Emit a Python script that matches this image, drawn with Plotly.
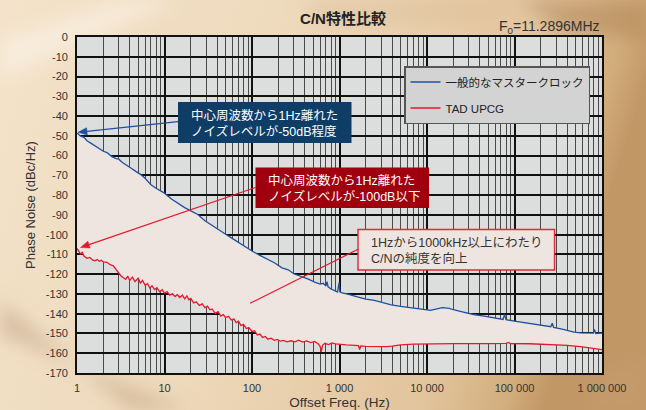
import base64
import math
import plotly.graph_objects as go

# ---------------- data ----------------
blue_name = "一般的なマスタークロック"
red_name = "TAD UPCG"

blue_f = [1, 1.1, 1.2, 1.3, 1.45, 1.6, 1.8, 2.0, 2.2, 2.5, 2.8, 3.0, 3.3, 3.7, 4.2, 4.7,
          5.3, 6.0, 7.0, 8.0, 9.0, 10, 12, 14, 17, 20, 24, 29, 35, 42, 50, 60, 72, 87,
          100, 120, 150, 180, 220, 260, 300, 360, 440, 520, 600, 650, 700, 720, 740, 800,
          850, 900, 950, 990, 1010, 1050, 1100, 1300, 1600, 2000, 2500, 3000, 3900, 5000,
          6600, 8500, 11000, 13000, 15000, 18000, 20000, 26000, 34000, 45000, 58000,
          74000, 77000, 80000, 100000, 130000, 170000, 220000, 260000, 270000, 280000,
          350000, 400000, 480000, 570000, 700000, 800000, 820000, 850000, 1000000]
blue_v = [-48.5, -50.2, -50.8, -52.5, -53.8, -55.0, -56.5, -57.8, -58.5, -60.5, -61.5,
          -61.8, -63.5, -64.8, -66.5, -68.0, -69.5, -71.5, -74.8, -76.5, -77.8, -79.0,
          -82.0, -84.0, -86.3, -88.0, -89.8, -93.0, -95.2, -97.5, -99.8, -102.0, -104.3,
          -106.8, -108.3, -110.2, -112.5, -114.2, -116.8, -117.8, -119.8, -121.0, -122.5,
          -124.0, -125.0, -124.6, -126.0, -123.8, -126.4, -127.5, -128.0, -128.5, -129.0,
          -124.3, -128.9, -129.3, -129.6, -130.3, -131.5, -132.6, -133.2, -134.2, -135.5,
          -136.3, -137.1, -137.8, -138.3, -137.5, -136.9, -137.3, -138.0, -139.2, -140.4,
          -141.2, -142.1, -142.9, -140.4, -143.0, -143.8, -144.6, -145.5, -146.2, -146.6,
          -144.8, -146.9, -147.8, -148.6, -149.3, -149.7, -149.6, -149.8, -148.0, -150.0,
          -149.8]

red_f = [1, 1.05, 1.1, 1.15, 1.2, 1.3, 1.4, 1.5, 1.6, 1.7, 1.8, 1.9, 2.0, 2.2, 2.4, 2.6,
         2.8, 3.0, 3.2, 3.4, 3.6, 3.8, 4.0, 4.3, 4.6, 5.0, 5.3, 5.6, 6.0, 6.4, 6.8, 7.2,
         7.7, 8.2, 8.8, 9.4, 10, 10.7, 11.5, 12.3, 13.2, 14, 15, 16, 17, 18, 19, 20, 21.5,
         23, 25, 27, 29, 31, 33, 35, 38, 41, 44, 47, 50, 54, 58, 62, 66, 70, 75, 80, 86,
         92, 100, 107, 115, 123, 132, 142, 152, 165, 180, 195, 210, 230, 250, 280, 310,
         340, 380, 420, 470, 520, 570, 600, 620, 640, 680, 750, 820, 900, 1000, 1200,
         1500, 1650, 1700, 1750, 2000, 2500, 3000, 3500, 4000, 5000, 7000, 10000, 20000,
         50000, 80000, 85000, 90000, 150000, 250000, 400000, 600000, 800000, 1000000]
red_v = [-107.0, -108.5, -109.8, -109.0, -110.8, -112.0, -111.5, -112.8, -113.2, -112.6,
         -113.5, -113.0, -113.8, -114.0, -115.2, -115.8, -117.8, -119.3, -121.0, -121.8,
         -122.6, -121.0, -123.2, -121.5, -123.8, -122.0, -124.5, -123.2, -125.5, -124.8,
         -127.0, -125.9, -127.8, -126.8, -128.9, -127.9, -129.6, -128.8, -130.6, -129.9,
         -131.3, -130.4, -131.8, -130.6, -132.5, -131.0, -133.0, -132.3, -134.5, -134.0,
         -135.8, -135.0, -136.9, -136.2, -138.0, -137.6, -139.8, -139.0, -141.2, -140.5,
         -142.0, -141.3, -143.2, -142.6, -144.5, -143.8, -146.0, -145.4, -147.5, -147.0,
         -149.0, -148.6, -150.8, -150.3, -152.0, -151.5, -152.9, -152.4, -153.5, -153.0,
         -153.9, -153.5, -154.2, -153.7, -154.2, -153.4, -154.4, -153.8, -154.6, -154.0,
         -155.2, -156.5, -159.2, -156.0, -155.0, -155.6, -154.8, -155.3, -155.6, -155.8,
         -156.0, -156.2, -158.2, -156.3, -156.5, -156.7, -156.8, -156.7, -156.4, -155.8,
         -155.4, -155.2, -155.1, -155.1, -155.0, -154.5, -155.1, -155.2, -155.5, -156.0,
         -156.8, -157.5, -158.2]

x_tickvals = [1, 10, 100, 1000, 10000, 100000, 1000000]
x_ticktext = ["1", "10", "100", "1 000", "10 000", "100 000", "1 000 000"]
y_tickvals = [0, -10, -20, -30, -40, -50, -60, -70, -80, -90, -100, -110, -120, -130,
              -140, -150, -160, -170]
y_ticktext = ["0", "-10", "-20", "-30", "-40", "-50", "-60", "-70", "-80", "-90", "-100",
              "-110", "-120", "-130", "-140", "-150", "-160", "-170"]

# ---------------- layout helpers ----------------
W, H = 646, 410
L, R, T, B = 77, 44, 37, 37
PW, PH = W - L - R, H - T - B


def px(x):
    return (x - L) / PW


def py(y):
    return (H - B - y) / PH


def arrow_shapes(tail, tip, color, head_len=9.0, half_w=3.6, width=1.2):
    """Leader line plus a filled triangular head (pixel positions -> paper coords)."""
    (x0, y0), (x1, y1) = tail, tip
    dx, dy = x1 - x0, y1 - y0
    n = math.hypot(dx, dy)
    ux, uy = dx / n, dy / n
    bx, by = x1 - ux * head_len, y1 - uy * head_len
    lx, ly = bx - uy * half_w, by + ux * half_w
    rx, ry = bx + uy * half_w, by - ux * half_w
    path = f"M{px(x1)},{py(y1)} L{px(lx)},{py(ly)} L{px(rx)},{py(ry)} Z"
    return [
        dict(type="line", xref="paper", yref="paper", x0=px(x0), y0=py(y0), x1=px(bx), y1=py(by),
             line=dict(width=width, color=color), layer="above"),
        dict(type="path", xref="paper", yref="paper", path=path, fillcolor=color,
             line=dict(width=0.5, color=color), layer="above"),
    ]


BLUE = "#1f50a0"
RED = "#e5192d"
FONT = "Liberation Sans, Noto Sans CJK JP, sans-serif"

minor_x = [m * d for d in [1, 10, 100, 1000, 10000, 100000] for m in range(2, 10)]

# background wood-like gradient (SVG)
svg = """<svg xmlns="http://www.w3.org/2000/svg" width="646" height="410" viewBox="0 0 646 410" preserveAspectRatio="none">
<defs>
<linearGradient id="g" x1="0" y1="0" x2="1" y2="0.2">
<stop offset="0" stop-color="#f3e3ca"/>
<stop offset="0.45" stop-color="#eed9bb"/>
<stop offset="0.82" stop-color="#e2c49c"/>
<stop offset="0.94" stop-color="#d2ae7e"/>
<stop offset="1" stop-color="#c29766"/>
</linearGradient>
<filter id="b"><feGaussianBlur stdDeviation="9"/></filter>
</defs>
<rect width="646" height="410" fill="url(#g)"/>
<g filter="url(#b)">
<polygon points="0,40 0,80 180,0 120,0" fill="#ffffff" opacity="0.35"/>
<polygon points="0,300 0,335 190,410 130,410" fill="#a88060" opacity="0.35"/>
<polygon points="520,0 646,0 646,40 560,30" fill="#a87c50" opacity="0.45"/>
<polygon points="300,0 520,0 470,20 320,25" fill="#d8b890" opacity="0.35"/>
<polygon points="600,380 646,360 646,410 590,410" fill="#c8a070" opacity="0.4"/>
</g>
</svg>"""
bg_src = "data:image/svg+xml;base64," + base64.b64encode(svg.encode("utf-8")).decode("ascii")

fig = go.Figure()

# fill between the two curves
fig.add_trace(go.Scatter(x=blue_f, y=blue_v, mode="lines", line=dict(width=0, color="rgba(0,0,0,0)"),
                         showlegend=False, hoverinfo="skip"))
fig.add_trace(go.Scatter(x=red_f, y=red_v, mode="lines", line=dict(width=0, color="rgba(0,0,0,0)"),
                         fill="tonexty", fillcolor="#efe5e0", showlegend=False, hoverinfo="skip"))
# curves
fig.add_trace(go.Scatter(x=blue_f, y=blue_v, mode="lines", name=blue_name, legendgroup="a",
                         line=dict(color=BLUE, width=1.3)))
fig.add_trace(go.Scatter(x=red_f, y=red_v, mode="lines", name=red_name, legendgroup="b",
                         line=dict(color=RED, width=1.3)))

shapes = [
    # plot area background
    dict(type="rect", xref="paper", yref="paper", x0=0, x1=1, y0=0, y1=1,
         fillcolor="#dcdddd", line=dict(width=0), layer="below"),
    # blue callout box
    dict(type="rect", xref="paper", yref="paper", x0=px(178), x1=px(351.5), y0=py(143), y1=py(102),
         fillcolor="#0e3d66", line=dict(width=0), layer="above"),
    # red callout box
    dict(type="rect", xref="paper", yref="paper", x0=px(255.5), x1=px(429), y0=py(208), y1=py(167.5),
         fillcolor="#a0000e", line=dict(width=0), layer="above"),
    # pink callout box
    dict(type="rect", xref="paper", yref="paper", x0=px(358), x1=px(554.5), y0=py(270), y1=py(229.5),
         fillcolor="#efe5e0", line=dict(width=1.4, color="#e0283a"), layer="above"),
    # pink callout leader line
    dict(type="line", xref="paper", yref="paper", x0=px(358), y0=py(249.3), x1=px(250), y1=py(303.3),
         line=dict(width=1.2, color=RED), layer="above"),
]
shapes += arrow_shapes((178, 121.7), (78, 132.3), BLUE)
shapes += arrow_shapes((255.5, 187.5), (80.5, 247.5), RED)

annotations = [
    dict(xref="paper", yref="paper", x=px(188.5), y=py(123), xanchor="left", yanchor="middle",
         align="left", showarrow=False, font=dict(family=FONT, size=12.5, color="white"),
         text="中心周波数から1Hz離れた<br>ノイズレベルが-50dB程度"),
    dict(xref="paper", yref="paper", x=px(266), y=py(188), xanchor="left", yanchor="middle",
         align="left", showarrow=False, font=dict(family=FONT, size=12.5, color="white"),
         text="中心周波数から1Hz離れた<br>ノイズレベルが-100dB以下"),
    dict(xref="paper", yref="paper", x=px(369), y=py(250.5), xanchor="left", yanchor="middle",
         align="left", showarrow=False, font=dict(family=FONT, size=12.5, color="#333333"),
         text="1Hzから1000kHz以上にわたり<br>C/Nの純度を向上"),
    dict(xref="paper", yref="paper", x=px(602), y=py(26.5), xanchor="right", yanchor="middle",
         showarrow=False, font=dict(family=FONT, size=14, color="#333333"),
         text="F<sub>0</sub>=11.2896MHz"),
]

fig.update_layout(
    width=W, height=H,
    margin=dict(l=L, r=R, t=T, b=B, pad=0, autoexpand=False),
    paper_bgcolor="#eed9bb",
    plot_bgcolor="rgba(0,0,0,0)",
    font=dict(family=FONT, color="#333333"),
    title=dict(text="<b>C/N特性比較</b>", x=343 / W, y=1 - 19 / H, xref="container", yref="container",
               xanchor="center", yanchor="middle", automargin=False,
               font=dict(family=FONT, size=15, color="#222222")),
    images=[dict(source=bg_src, xref="paper", yref="paper", x=-L / PW, y=1 + T / PH,
                 sizex=W / PW, sizey=H / PH, sizing="stretch", xanchor="left", yanchor="top",
                 layer="below")],
    shapes=shapes,
    annotations=annotations,
    showlegend=True,
    legend=dict(x=px(404), y=py(66), xanchor="left", yanchor="top", bgcolor="#d3d3d3",
                bordercolor="#555555", borderwidth=1.5, traceorder="grouped", tracegroupgap=7,
                itemwidth=30, font=dict(family=FONT, size=11.5, color="#222222")),
)

fig.update_xaxes(
    type="log", range=[0, 6], tickvals=x_tickvals, ticktext=x_ticktext, automargin=False,
    showgrid=True, gridcolor="#111111", gridwidth=1.5,
    minor=dict(tickvals=minor_x, showgrid=True, gridcolor="#4a4a4a", gridwidth=1.4),
    showline=True, linecolor="#111111", linewidth=1.8, mirror=True,
    ticks="", ticklabelstandoff=4, zeroline=False,
    tickfont=dict(family=FONT, size=11, color="#333333"),
    title=dict(text="Offset Freq. (Hz)", standoff=5, font=dict(family=FONT, size=13.5, color="#333333")),
)
fig.update_yaxes(
    range=[-170, 0], tickvals=y_tickvals, ticktext=y_ticktext, automargin=False,
    showgrid=True, gridcolor="#111111", gridwidth=1.5,
    showline=True, linecolor="#111111", linewidth=1.8, mirror=True,
    ticks="", ticklabelstandoff=5, zeroline=False,
    tickfont=dict(family=FONT, size=11, color="#333333"),
    title=dict(text="Phase Noise (dBc/Hz)", standoff=7, font=dict(family=FONT, size=13, color="#333333")),
)

fig.write_html("out.html", config={"displayModeBar": False},
               post_script="document.body.style.margin='0';document.body.style.overflow='hidden';")
